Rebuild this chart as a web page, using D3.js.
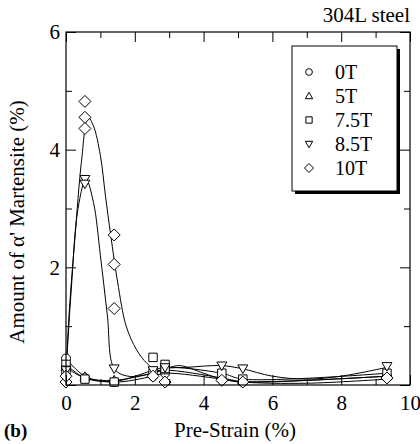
<!DOCTYPE html>
<html>
<head>
<meta charset="utf-8">
<script src="https://cdn.jsdelivr.net/npm/d3@7"></script>
<style>
  body { margin: 0; background: #fff; }
</style>
</head>
<body>
<svg id="chart" width="420" height="444"></svg>
<script>
// measured points, [pre-strain %, martensite %]
const pts0T = [[0, 0.45], [0, 0.3], [0.55, 0.12], [1.4, 0.05], [2.53, 0.15], [2.88, 0.2], [4.53, 0.1], [5.14, 0.05], [9.33, 0.15]];
const pts5T = [[0, 0.3], [0, 0.2], [0.55, 0.14], [1.4, 0.08], [2.53, 0.2], [2.88, 0.25], [4.53, 0.12], [5.14, 0.08], [9.33, 0.15]];
const pts75T = [[0, 0.35], [0, 0.25], [0.55, 0.1], [1.4, 0.05], [2.53, 0.47], [2.53, 0.2], [2.88, 0.35], [2.88, 0.28], [4.53, 0.2], [5.14, 0.1], [9.33, 0.2]];
const pts85T = [[0, 0.25], [0.55, 3.5], [0.55, 3.42], [1.4, 0.28], [2.53, 0.25], [2.88, 0.3], [4.53, 0.33], [5.14, 0.28], [9.33, 0.32]];
const pts10T = [[0, 0.05], [0, 0.15], [0.55, 4.82], [0.55, 4.55], [0.55, 4.36], [1.4, 2.55], [1.4, 2.05], [1.4, 1.3], [2.53, 0.15], [2.88, 0.05], [4.53, 0.08], [5.14, 0.05], [9.33, 0.12]];

// fitted curves
const fit0T = [[0, 0.45], [0.55, 0.15], [1.4, 0.05], [2.53, 0.15], [2.88, 0.2], [4.53, 0.1], [5.14, 0.05], [9.33, 0.15]];
const fit5T = [[0, 0.3], [0.55, 0.12], [1.4, 0.08], [2.53, 0.2], [2.88, 0.25], [4.53, 0.12], [5.14, 0.06], [9.33, 0.15]];
const fit75T = [[0, 0.35], [0.55, 0.12], [1.4, 0.06], [2.53, 0.25], [2.88, 0.3], [4.53, 0.2], [5.14, 0.1], [9.33, 0.2]];
const fit85T = [[0, 0.2], [0.15, 1.6], [0.35, 3.0], [0.58, 3.5], [0.8, 3.1], [1.0, 2.2], [1.2, 1.2], [1.4, 0.28], [1.8, 0.15], [2.5, 0.2], [2.9, 0.28], [3.5, 0.3], [4.5, 0.33], [5.1, 0.28], [6, 0.15], [7, 0.1], [8, 0.15], [9.33, 0.3]];
const fit10T = [[0, 0.2], [0.1, 1.3], [0.26, 2.5], [0.45, 3.8], [0.64, 4.55], [0.8, 4.4], [1.0, 3.9], [1.15, 3.2], [1.3, 2.55], [1.5, 1.75], [1.75, 1.0], [2.05, 0.6], [2.35, 0.37], [2.65, 0.25], [3.3, 0.33], [4.0, 0.2], [4.53, 0.1], [5.14, 0.05], [7, 0.03], [9.33, 0.1]];

const seriesNames = ["0T", "5T", "7.5T", "8.5T", "10T"];
const seriesPts = [pts0T, pts5T, pts75T, pts85T, pts10T];
const seriesFits = [fit0T, fit5T, fit75T, fit85T, fit10T];
const seriesSymbols = ["circle", "up", "square", "down", "diamond"];

const xTicks = [0, 2, 4, 6, 8, 10];
const yTicks = [0, 2, 4, 6];

const serif = "'Liberation Serif', 'Times New Roman', Times, serif";
const svg = d3.select("#chart").attr("font-family", serif);
const margin = { top: 32, right: 10, bottom: 59, left: 66 };
const W = 420, H = 444;
const x = d3.scaleLinear().domain([0, 10]).range([margin.left, W - margin.right]);
const y = d3.scaleLinear().domain([0, 6]).range([H - margin.bottom, margin.top]);

// symbol path generator
function symbolPath(kind, s) {
  if (kind === "circle") return d3.symbol(d3.symbolCircle, Math.PI * s * s)();
  if (kind === "square") return `M${-s},${-s}H${s}V${s}H${-s}Z`;
  if (kind === "up") return `M0,${-s * 1.1}L${s * 1.1},${s * 0.8}L${-s * 1.1},${s * 0.8}Z`;
  if (kind === "down") return `M0,${s * 1.1}L${s * 1.1},${-s * 0.8}L${-s * 1.1},${-s * 0.8}Z`;
  return `M0,${-s}L${s},0L0,${s}L${-s},0Z`;
}
const symSize = { circle: 4.5, up: 4.5, square: 4.2, down: 4.5, diamond: 6 };

// curves
const line = d3.line().x(d => x(d[0])).y(d => y(d[1])).curve(d3.curveCatmullRom.alpha(0.5));
seriesFits.forEach(f => {
  svg.append("path").attr("d", line(f)).attr("fill", "none").attr("stroke", "#000").attr("stroke-width", 1);
});

// points
seriesPts.forEach((pts, i) => {
  const k = seriesSymbols[i];
  svg.append("g").selectAll("path").data(pts).join("path")
    .attr("transform", d => `translate(${x(d[0])},${y(d[1])})`)
    .attr("d", symbolPath(k, symSize[k]))
    .attr("fill", "#fff").attr("stroke", "#000").attr("stroke-width", 1);
});

// frame
svg.append("rect").attr("x", margin.left).attr("y", margin.top)
  .attr("width", W - margin.left - margin.right).attr("height", H - margin.top - margin.bottom)
  .attr("fill", "none").attr("stroke", "#000").attr("stroke-width", 1.2);

// axes with inward ticks
const tickFont = 21;
function styleAxis(g) {
  g.attr("font-family", serif).attr("font-size", tickFont);
  g.select(".domain").remove();
  g.selectAll(".tick text").attr("fill", "#000");
}
const axB = d3.axisBottom(x).tickValues(d3.range(0, 11, 1)).tickSize(0)
  .tickFormat(d => xTicks.includes(d) ? d : "");
const gx = svg.append("g").attr("transform", `translate(0,${H - margin.bottom})`).call(axB).call(styleAxis);
gx.selectAll(".tick text").attr("dy", "0.95em").attr("y", 5);
gx.selectAll(".tick").append("line").attr("y2", d => d % 2 === 0 ? -10 : -6).attr("stroke", "#000");

const axT = d3.axisTop(x).tickValues(d3.range(0, 11, 1)).tickSize(0).tickFormat("");
const gt = svg.append("g").attr("transform", `translate(0,${margin.top})`).call(axT).call(styleAxis);
gt.selectAll(".tick").append("line").attr("y2", d => d % 2 === 0 ? 10 : 6).attr("stroke", "#000");

const axL = d3.axisLeft(y).tickValues(d3.range(0, 7, 1)).tickSize(0)
  .tickFormat(d => yTicks.includes(d) && d > 0 ? d : "");
const gy = svg.append("g").attr("transform", `translate(${margin.left},0)`).call(axL).call(styleAxis);
gy.selectAll(".tick text").attr("x", -6);
gy.selectAll(".tick").append("line").attr("x2", d => d % 2 === 0 ? 10 : 6).attr("stroke", "#000");

const axR = d3.axisRight(y).tickValues(d3.range(0, 7, 1)).tickSize(0).tickFormat("");
const gr = svg.append("g").attr("transform", `translate(${W - margin.right},0)`).call(axR).call(styleAxis);
gr.selectAll(".tick").append("line").attr("x2", d => d % 2 === 0 ? -10 : -6).attr("stroke", "#000");

// legend
const lg = svg.append("g").attr("transform", "translate(292,46)");
lg.append("rect").attr("x", 3).attr("y", 3).attr("width", 105).attr("height", 145).attr("fill", "#000");
lg.append("rect").attr("width", 105).attr("height", 145).attr("fill", "#fff").attr("stroke", "#000");
seriesNames.forEach((n, i) => {
  const k = seriesSymbols[i];
  const yy = 26 + i * 24;
  lg.append("path").attr("transform", `translate(17,${yy})`).attr("d", symbolPath(k, symSize[k] * 0.75))
    .attr("fill", "#fff").attr("stroke", "#000");
  lg.append("text").attr("x", 43).attr("y", yy + 7).attr("font-size", 20).text(n);
});

// titles
svg.append("text").attr("x", 410).attr("y", 22).attr("text-anchor", "end").attr("font-size", 21).text("304L steel");
svg.append("text").attr("x", 235).attr("y", 437).attr("text-anchor", "middle").attr("font-size", 21).text("Pre-Strain (%)");
svg.append("text").attr("transform", "translate(24,222) rotate(-90)")
  .attr("text-anchor", "middle").attr("font-size", 21).text("Amount of α' Martensite (%)");
svg.append("text").attr("x", 4).attr("y", 437).attr("font-size", 19).attr("font-weight", "bold").text("(b)");
</script>
</body>
</html>
